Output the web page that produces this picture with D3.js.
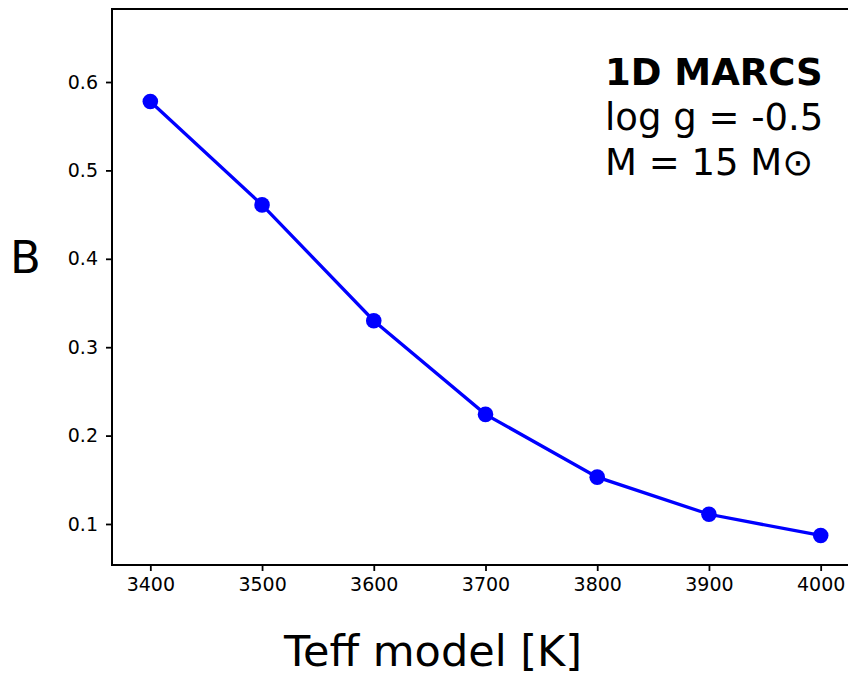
<!DOCTYPE html>
<html>
<head>
<meta charset="utf-8">
<script src="https://cdn.jsdelivr.net/npm/d3@7"></script>
<style>
  body { margin: 0; background: #fff; }
  svg { display: block; font-family: "DejaVu Sans", sans-serif; }
</style>
</head>
<body>
<div id="chart"></div>
<script>
(function() {
  var width = 848;
  var height = 675;

  // data
  var teff = [3400, 3500, 3600, 3700, 3800, 3900, 4000];
  var bValues = [0.578, 0.461, 0.330, 0.224, 0.153, 0.111, 0.087];
  var xTicks = [3400, 3500, 3600, 3700, 3800, 3900, 4000];
  var yTicks = [0.1, 0.2, 0.3, 0.4, 0.5, 0.6];
  var labelLines = ['1D MARCS', 'log g = -0.5', 'M = 15 M\u2299'];

  var left = 112, top = 9, right = 859, bottom = 565;

  var svg = d3.select('#chart')
    .append('svg')
    .attr('width', width)
    .attr('height', height);

  var x = d3.scaleLinear().domain([3365.7, 4034.3]).range([left, right]);
  var y = d3.scaleLinear().domain([0.0536, 0.6826]).range([bottom, top]);

  // axes
  var xAxis = svg.append('g')
    .attr('transform', 'translate(0,' + bottom + ')')
    .call(d3.axisBottom(x).tickValues(xTicks).tickSize(6).tickPadding(7).tickFormat(d3.format('d')));
  var yAxis = svg.append('g')
    .attr('transform', 'translate(' + left + ',0)')
    .call(d3.axisLeft(y).tickValues(yTicks).tickSize(6).tickPadding(8).tickFormat(d3.format('.1f')));

  [xAxis, yAxis].forEach(function(a) {
    a.attr('font-family', '"DejaVu Sans", sans-serif').attr('font-size', 19);
    a.select('.domain').remove();
    a.selectAll('.tick line').attr('stroke', '#000').attr('stroke-width', 1.8);
    a.selectAll('.tick text').attr('fill', '#000');
  });

  // spines (right one falls outside the window)
  svg.append('rect')
    .attr('x', left)
    .attr('y', top)
    .attr('width', right - left)
    .attr('height', bottom - top)
    .attr('fill', 'none')
    .attr('stroke', '#000')
    .attr('stroke-width', 2);

  var points = teff.map(function(t, i) { return { t: t, b: bValues[i] }; });

  var line = d3.line()
    .x(function(d) { return x(d.t); })
    .y(function(d) { return y(d.b); });

  svg.append('path')
    .datum(points)
    .attr('d', line)
    .attr('fill', 'none')
    .attr('stroke', '#0000ff')
    .attr('stroke-width', 3.3);

  svg.selectAll('.dot')
    .data(points)
    .enter()
    .append('circle')
    .attr('class', 'dot')
    .attr('cx', function(d) { return x(d.t); })
    .attr('cy', function(d) { return y(d.b); })
    .attr('r', 7.8)
    .attr('fill', '#0000ff');

  // annotation
  svg.selectAll('.note')
    .data(labelLines)
    .enter()
    .append('text')
    .attr('class', 'note')
    .attr('x', 605)
    .attr('y', function(d, i) { return 85 + i * 45; })
    .attr('font-size', 37)
    .attr('font-weight', function(d, i) { return i === 0 ? 'bold' : 'normal'; })
    .text(function(d) { return d; });

  // axis labels
  svg.append('text')
    .attr('x', 433)
    .attr('y', 666)
    .attr('text-anchor', 'middle')
    .attr('font-size', 43)
    .text('Teff model [K]');

  svg.append('text')
    .attr('x', 10)
    .attr('y', 273)
    .attr('font-size', 45)
    .text('B');
})();
</script>
</body>
</html>
